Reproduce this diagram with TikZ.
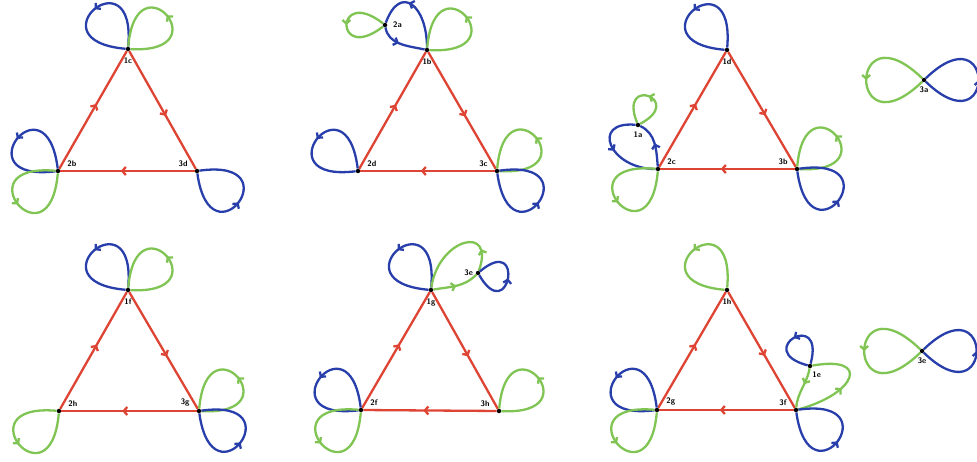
\documentclass[tikz,border=0pt]{standalone}
\usepackage{tikz}
\usetikzlibrary{arrows.meta,decorations.markings,positioning}
\definecolor{edgred}{RGB}{222,68,52}
\definecolor{lpblue}{RGB}{40,62,170}
\definecolor{lpgreen}{RGB}{128,196,84}
\tikzset{
  vtx/.style={circle, fill=black, inner sep=0pt, minimum size=4.5pt},
  lbl/.style={font=\fontsize{8}{9}\selectfont\sffamily\bfseries, inner sep=0.5pt},
  mid/.style={postaction={decorate}, decoration={markings,
              mark=at position #1 with {\arrow{Straight Barb[length=3.5pt,width=8pt]}}}},
  edg/.style={color=edgred, line width=2.3pt, mid=0.55},
  blp/.style={color=lpblue, line width=2.3pt, mid=#1},
  blp/.default=0.5,
  glp/.style={color=lpgreen, line width=2.3pt, mid=#1},
  glp/.default=0.5,
  lpul/.style={out=85, in=175, min distance=95pt},
  lpulb/.style={out=97, in=187, min distance=95pt},
  lpur/.style={out=-3, in=85, min distance=92pt},
  lpll/.style={out=175, in=265, min distance=95pt},
  lplr/.style={out=-82, in=8, min distance=95pt},
}
\begin{document}
\begin{tikzpicture}[x=1pt, y=1pt]
\useasboundingbox (0,0) rectangle (977,461);

% first triangle
\node[vtx] (v1c) at (128,412) {};
\node[vtx] (v2b) at (58,290) {};
\node[vtx] (v3d) at (197,290) {};
\node[lbl, below=6pt of v1c] {1c};
\node[lbl, above right=2pt and 7pt of v2b] {2b};
\node[lbl, above left=2pt and 7pt of v3d] {3d};
\draw[edg] (v2b) -- (v1c);
\draw[edg] (v1c) -- (v3d);
\draw[edg] (v3d) -- (v2b);
\draw[blp] (v1c) to[lpul] (v1c);
\draw[glp] (v1c) to[lpur] (v1c);
\draw[blp] (v2b) to[lpulb] (v2b);
\draw[glp] (v2b) to[lpll] (v2b);
\draw[blp] (v3d) to[lplr] (v3d);

% second triangle
\node[vtx] (v1b) at (427,411) {};
\node[vtx] (v2d) at (358,290) {};
\node[vtx] (v3c) at (497,290) {};
\node[vtx] (v2a) at (385,436) {};
\node[lbl, below=6pt of v1b] {1b};
\node[lbl, above right=2pt and 7pt of v2d] {2d};
\node[lbl, above left=2pt and 7pt of v3c] {3c};
\node[lbl, right=5pt of v2a] {2a};
\draw[edg] (v2d) -- (v1b);
\draw[edg] (v1b) -- (v3c);
\draw[edg] (v3c) -- (v2d);
\draw[blp=0.6] (v1b) to[out=90, in=70, min distance=42pt] (v2a);
\draw[blp=0.45] (v2a) to[out=-80, in=168] (v1b);
\draw[glp] (v2a) to[out=142, in=218, min distance=62pt] (v2a);
\draw[glp] (v1b) to[lpur] (v1b);
\draw[blp] (v2d) to[lpulb] (v2d);
\draw[glp] (v3c) to[lpur] (v3c);
\draw[blp] (v3c) to[lplr] (v3c);

% third triangle
\node[vtx] (v1d) at (727,411) {};
\node[vtx] (v2c) at (658,292) {};
\node[vtx] (v3b) at (797,292) {};
\node[vtx] (v1a) at (638,336) {};
\node[lbl, below=6pt of v1d] {1d};
\node[lbl, above right=2pt and 7pt of v2c] {2c};
\node[lbl, above left=2pt and 7pt of v3b] {3b};
\node[lbl, below=4pt of v1a] {1a};
\draw[edg] (v2c) -- (v1d);
\draw[edg] (v1d) -- (v3b);
\draw[edg] (v3b) -- (v2c);
\draw[blp] (v1d) to[lpul] (v1d);
\draw[blp] (v2c) to[out=95, in=-25] (v1a);
\draw[blp] (v1a) to[out=175, in=180, min distance=46pt] (v2c);
\draw[glp] (v1a) to[out=28, in=112, min distance=52pt] (v1a);
\draw[glp] (v2c) to[lpll] (v2c);
\draw[glp] (v3b) to[lpur] (v3b);
\draw[blp] (v3b) to[lplr] (v3b);

% figure eight 3a
\node[vtx] (v3a) at (924,381) {};
\node[lbl, below=4pt of v3a] {3a};
\draw[glp] (v3a) to[out=136, in=224, min distance=104pt] (v3a);
\draw[blp] (v3a) to[out=-44, in=44, min distance=98pt] (v3a);

% fourth triangle
\node[vtx] (v1f) at (128,171) {};
\node[vtx] (v2h) at (59,50) {};
\node[vtx] (v3g) at (199,50) {};
\node[lbl, below=6pt of v1f] {1f};
\node[lbl, above right=2pt and 7pt of v2h] {2h};
\node[lbl, above left=2pt and 7pt of v3g] {3g};
\draw[edg] (v2h) -- (v1f);
\draw[edg] (v1f) -- (v3g);
\draw[edg] (v3g) -- (v2h);
\draw[blp] (v1f) to[lpul] (v1f);
\draw[glp] (v1f) to[lpur] (v1f);
\draw[glp] (v2h) to[lpll] (v2h);
\draw[glp] (v3g) to[lpur] (v3g);
\draw[blp] (v3g) to[lplr] (v3g);

% fifth triangle
\node[vtx] (v1g) at (431,171) {};
\node[vtx] (v2f) at (361,51) {};
\node[vtx] (v3h) at (499,50) {};
\node[vtx] (v3e) at (478,188) {};
\node[lbl, below=6pt of v1g] {1g};
\node[lbl, above right=2pt and 7pt of v2f] {2f};
\node[lbl, above left=2pt and 7pt of v3h] {3h};
\node[lbl, left=2pt of v3e] {3e};
\draw[edg] (v2f) -- (v1g);
\draw[edg] (v1g) -- (v3h);
\draw[edg] (v3h) -- (v2f);
\draw[blp] (v1g) to[lpul] (v1g);
\draw[glp] (v1g) to[out=10, in=225] (v3e);
\draw[glp=0.22] (v3e) to[out=70, in=82, min distance=50pt] (v1g);
\draw[blp] (v3e) to[out=-60, in=40, min distance=60pt] (v3e);
\draw[blp] (v2f) to[lpulb] (v2f);
\draw[glp] (v2f) to[lpll] (v2f);
\draw[glp] (v3h) to[lpur] (v3h);

% sixth triangle
\node[vtx] (v1h) at (727,171) {};
\node[vtx] (v2g) at (657,51) {};
\node[vtx] (v3f) at (796,51) {};
\node[vtx] (v1e) at (810,95) {};
\node[lbl, below=6pt of v1h] {1h};
\node[lbl, above right=2pt and 7pt of v2g] {2g};
\node[lbl, above left=2pt and 7pt of v3f] {3f};
\node[lbl, below right=3pt and 0pt of v1e] {1e};
\draw[edg] (v2g) -- (v1h);
\draw[edg] (v1h) -- (v3f);
\draw[edg] (v3f) -- (v2g);
\draw[glp] (v1h) to[lpul] (v1h);
\draw[blp] (v2g) to[lpulb] (v2g);
\draw[glp] (v2g) to[lpll] (v2g);
\draw[glp=0.45] (v3f) to[out=15, in=10, min distance=60pt] (v1e);
\draw[glp=0.4] (v1e) to[out=-100, in=85] (v3f);
\draw[blp] (v1e) to[out=75, in=165, min distance=58pt] (v1e);
\draw[blp] (v3f) to[lplr] (v3f);

% figure eight 3e
\node[vtx] (v3ex) at (922,110) {};
\node[lbl, below=4pt of v3ex] {3e};
\draw[glp] (v3ex) to[out=136, in=224, min distance=104pt] (v3ex);
\draw[blp] (v3ex) to[out=-44, in=44, min distance=98pt] (v3ex);
\end{tikzpicture}
\end{document}
